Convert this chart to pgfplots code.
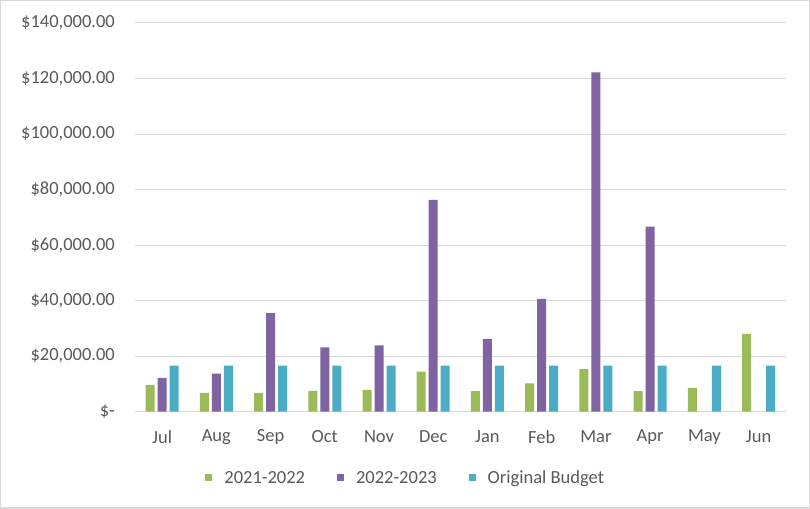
\documentclass[border=0pt]{standalone}
\usepackage{fontspec}
\setmainfont{Carlito}
\usepackage{pgfplots}
\pgfplotsset{compat=1.18}
\definecolor{cg}{HTML}{9BBB59}
\definecolor{cp}{HTML}{8064A2}
\definecolor{cb}{HTML}{4BACC6}
\definecolor{gridc}{HTML}{D9D9D9}
\definecolor{txt}{HTML}{595959}
\begin{document}
\begin{tikzpicture}[x=1bp,y=1bp]
\useasboundingbox (0,0) rectangle (810,509);
\draw[gridc, line width=1.5bp] (0.75,0.75) rectangle (809.25,508.25);
\begin{axis}[
  at={(135bp,97.3bp)}, anchor=south west,
  scale only axis, width=650.7bp, height=388.7bp,
  ymin=0, ymax=140000, xmin=-0.5, xmax=11.5,
  axis line style={draw=none},
  major tick length=0pt,
  ytick={0,20000,40000,60000,80000,100000,120000,140000},
  yticklabels={{\$-\hspace{10bp}},{\$20,000.00},{\$40,000.00},{\$60,000.00},{\$80,000.00},{\$100,000.00},{\$120,000.00},{\$140,000.00}},
  scaled y ticks=false,
  xtick={0,1,2,3,4,5,6,7,8,9,10,11},
  xticklabels={Jul,Aug,Sep,Oct,Nov,Dec,Jan,Feb,Mar,Apr,May,Jun},
  ymajorgrids, grid style={gridc, line width=1bp},
  ybar=3bp, bar width=9bp,
  font=\fontsize{18.5bp}{21bp}\selectfont,
  ticklabel style={text=txt, font=\fontsize{18.5bp}{21bp}\selectfont},
  yticklabel style={anchor=east, inner sep=0pt, xshift=-20bp},
  xticklabel style={anchor=center, inner sep=0pt, yshift=-25bp},
  legend style={at={(0.416,-0.17)}, anchor=center, draw=none, fill=none,
    legend columns=3, font=\fontsize{18.5bp}{21bp}\selectfont, text=txt,
    /tikz/every odd column/.append style={column sep=10bp},
    /tikz/every even column/.append style={column sep=30bp}},
  legend image code/.code={\fill[#1] (0bp,-3.5bp) rectangle (7bp,3.5bp);},
]
\addplot[draw=none, fill=cg] coordinates {(0,9700) (1,6800) (2,6800) (3,7500) (4,7900) (5,14400) (6,7400) (7,10200) (8,15300) (9,7400) (10,8600) (11,28000)};
\addplot[draw=none, fill=cp] coordinates {(0,12200) (1,13700) (2,35500) (3,23200) (4,23900) (5,76300) (6,26200) (7,40600) (8,122200) (9,66700)};
\addplot[draw=none, fill=cb] coordinates {(0,16600) (1,16600) (2,16600) (3,16600) (4,16600) (5,16600) (6,16600) (7,16600) (8,16600) (9,16600) (10,16600) (11,16600)};
\legend{2021-2022,2022-2023,Original Budget}
\end{axis}
\end{tikzpicture}
\end{document}
